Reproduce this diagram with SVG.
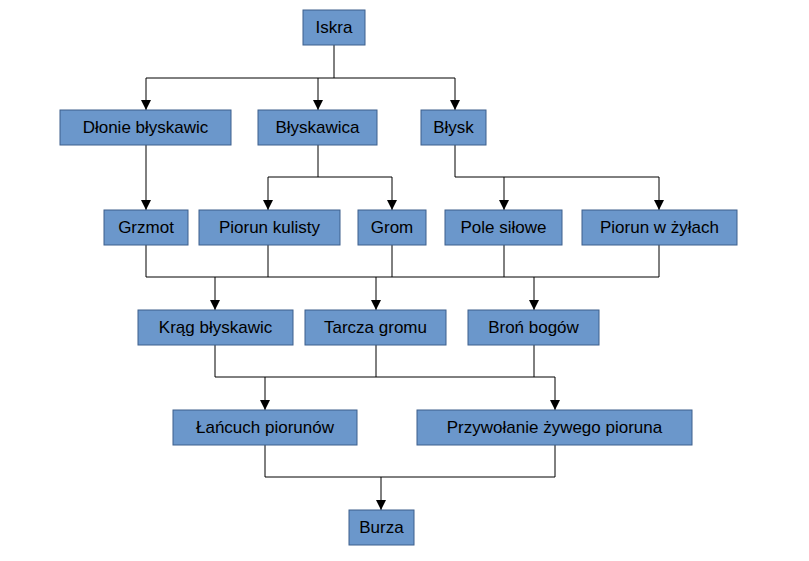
<svg xmlns="http://www.w3.org/2000/svg" width="809" height="561" viewBox="0 0 809 561">
<style>
.n rect{fill:#6b97cb;stroke:#3d5f8c;stroke-width:1}
.n text{font-family:"Liberation Sans",Arial,sans-serif;font-size:17px;fill:#000;text-anchor:middle;dominant-baseline:central}
.c path{fill:none;stroke:#000;stroke-width:1}
</style>
<defs><marker id="a" markerWidth="10" markerHeight="12" refX="5" refY="11" orient="auto" markerUnits="userSpaceOnUse" viewBox="0 0 10 12"><path d="M0,0 L10,0 L5,11 Z" fill="#000" transform="rotate(-90 5 6)"/></marker>
<marker id="m" markerWidth="10" markerHeight="12" refX="10" refY="5" orient="auto" markerUnits="userSpaceOnUse"><path d="M0,0 L10,5 L0,10 Z" fill="#000"/></marker></defs>
<rect width="809" height="561" fill="#fff"/>
<g class="c">
<path d="M334,45V78M146,78H455"/>
<path d="M146,78V110" marker-end="url(#m)"/><path d="M318,78V110" marker-end="url(#m)"/><path d="M455,78V110" marker-end="url(#m)"/>
<path d="M146,145V210" marker-end="url(#m)"/>
<path d="M318,145V177M268,177H392"/>
<path d="M268,177V210" marker-end="url(#m)"/><path d="M392,177V210" marker-end="url(#m)"/>
<path d="M455,145V177H659"/>
<path d="M504,177V210" marker-end="url(#m)"/><path d="M659,177V210" marker-end="url(#m)"/>
<path d="M146,245V277H659V245M268,245V277M392,245V277M504,245V277"/>
<path d="M215,277V310" marker-end="url(#m)"/><path d="M376,277V310" marker-end="url(#m)"/><path d="M534,277V310" marker-end="url(#m)"/>
<path d="M215,345V377H555M376,345V377M534,345V377"/>
<path d="M265,377V410" marker-end="url(#m)"/><path d="M555,377V410" marker-end="url(#m)"/>
<path d="M265,445V477H555V445"/>
<path d="M381,477V510" marker-end="url(#m)"/>
</g>
<g id="iskra" class="n"><rect x="303" y="10" width="62" height="35"/><text x="334" y="27.5">Iskra</text></g>
<g id="dlonie" class="n"><rect x="60" y="110" width="171" height="35"/><text x="145.5" y="127.5">Dłonie błyskawic</text></g>
<g id="blyskawica" class="n"><rect x="258" y="110" width="119" height="35"/><text x="317.5" y="127.5">Błyskawica</text></g>
<g id="blysk" class="n"><rect x="421" y="110" width="65" height="35"/><text x="453.5" y="127.5">Błysk</text></g>
<g id="grzmot" class="n"><rect x="104" y="210" width="84" height="35"/><text x="146" y="227.5">Grzmot</text></g>
<g id="kulisty" class="n"><rect x="199" y="210" width="141" height="35"/><text x="269.5" y="227.5">Piorun kulisty</text></g>
<g id="grom" class="n"><rect x="358" y="210" width="68" height="35"/><text x="392" y="227.5">Grom</text></g>
<g id="pole" class="n"><rect x="445" y="210" width="117" height="35"/><text x="503.5" y="227.5">Pole siłowe</text></g>
<g id="zylach" class="n"><rect x="582" y="210" width="155" height="35"/><text x="659.5" y="227.5">Piorun w żyłach</text></g>
<g id="krag" class="n"><rect x="138" y="310" width="155" height="35"/><text x="215.5" y="327.5">Krąg błyskawic</text></g>
<g id="tarcza" class="n"><rect x="305" y="310" width="141" height="35"/><text x="375.5" y="327.5">Tarcza gromu</text></g>
<g id="bron" class="n"><rect x="468" y="310" width="131" height="35"/><text x="533.5" y="327.5">Broń bogów</text></g>
<g id="lancuch" class="n"><rect x="173" y="410" width="184" height="35"/><text x="265" y="427.5">Łańcuch piorunów</text></g>
<g id="przywolanie" class="n"><rect x="417" y="410" width="275" height="35"/><text x="554.5" y="427.5">Przywołanie żywego pioruna</text></g>
<g id="burza" class="n"><rect x="349" y="510" width="65" height="35"/><text x="381.5" y="527.5">Burza</text></g>
</svg>
